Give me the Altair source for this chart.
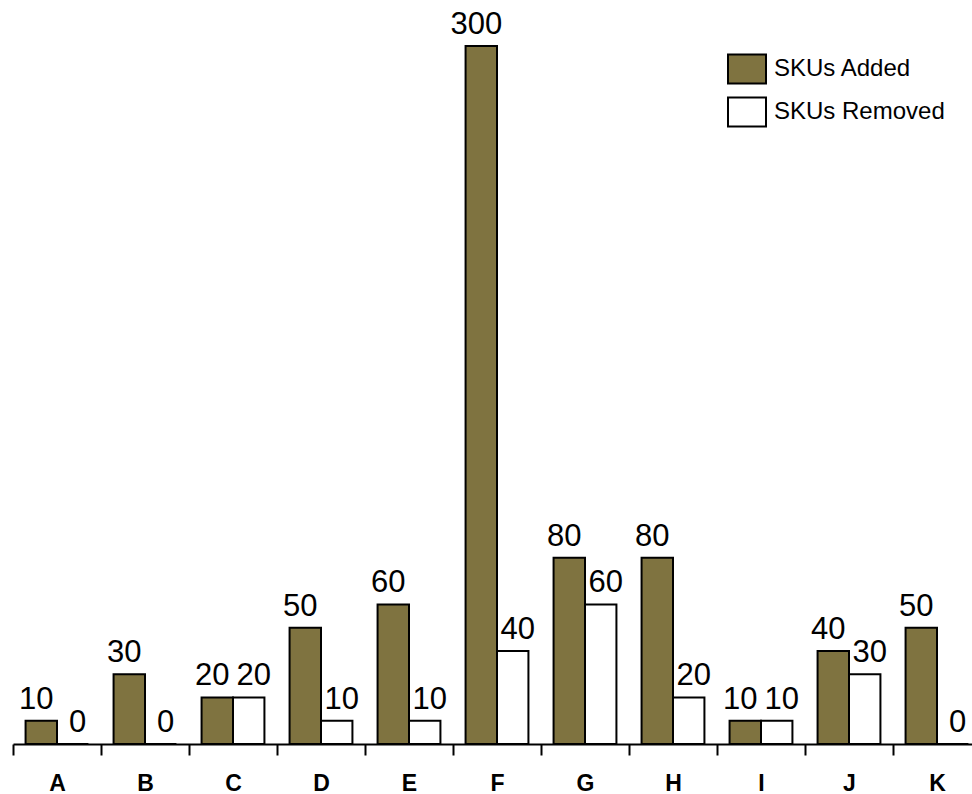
import altair as alt
import pandas as pd

# Data
categories = ["A", "B", "C", "D", "E", "F", "G", "H", "I", "J", "K"]
skus_added = [10, 30, 20, 50, 60, 300, 80, 80, 10, 40, 50]
skus_removed = [0, 0, 20, 10, 10, 40, 60, 20, 10, 30, 0]
series = ["SKUs Added", "SKUs Removed"]

rows = []
for cat, a, r in zip(categories, skus_added, skus_removed):
    rows.append({"category": cat, "series": series[0], "value": a})
    rows.append({"category": cat, "series": series[1], "value": r})
df = pd.DataFrame(rows)

FONT = "Liberation Sans"
OLIVE = "#7f7340"

# the category axis runs a little past the right edge of the canvas
x_enc = alt.X(
    "category:N",
    sort=categories,
    scale=alt.Scale(paddingInner=0, paddingOuter=0, range=[0, 968]),
    axis=alt.Axis(
        title=None,
        labelAngle=0,
        labelFont=FONT,
        labelFontSize=23,
        labelFontWeight="bold",
        labelColor="black",
        labelPadding=17,
        labelBaseline="top",
        domainColor="black",
        domainWidth=2,
        tickColor="black",
        tickWidth=2,
        tickSize=11,
        tickBand="extent",
    ),
)
offset_enc = alt.XOffset(
    "series:N",
    sort=series,
    scale=alt.Scale(paddingInner=0, paddingOuter=0.4),
)
y_enc = alt.Y(
    "value:Q",
    scale=alt.Scale(domain=[0, 300], nice=False, zero=True),
    axis=None,
)

base = alt.Chart(df).encode(x=x_enc, xOffset=offset_enc, y=y_enc)

bars = base.mark_bar(stroke="black", strokeWidth=2).encode(
    fill=alt.Fill(
        "series:N",
        scale=alt.Scale(domain=series, range=[OLIVE, "#ffffff"]),
        legend=alt.Legend(
            title=None,
            orient="none",
            legendX=714,
            legendY=3,
            padding=0,
            symbolType="M-1,-0.763H1V0.763H-1Z",
            symbolSize=1444,
            symbolStrokeColor="black",
            symbolStrokeWidth=2,
            symbolOpacity=1,
            labelFont=FONT,
            labelFontSize=24,
            labelColor="black",
            labelOffset=7,
            labelLimit=400,
            rowPadding=4,
        ),
    ),
)

# value labels: nudge each series outward so neighbouring labels stay apart
added_labels = base.transform_filter(alt.datum.series == series[0]).mark_text(
    font=FONT, fontSize=31, color="black", baseline="alphabetic", dy=-12, dx=-5
).encode(text=alt.Text("value:Q"))

removed_labels = base.transform_filter(alt.datum.series == series[1]).mark_text(
    font=FONT, fontSize=31, color="black", baseline="alphabetic", dy=-12, dx=5
).encode(text=alt.Text("value:Q"))

chart = (
    alt.layer(bars, added_labels, removed_labels)
    .properties(
        width=959,
        height=698,
        padding={"left": 13, "top": 46, "right": 0, "bottom": 50},
        autosize=alt.AutoSizeParams(type="none"),
        background="white",
    )
    .configure_view(stroke=None)
)

chart.save("out.html", embed_options={"renderer": "svg", "actions": False})
